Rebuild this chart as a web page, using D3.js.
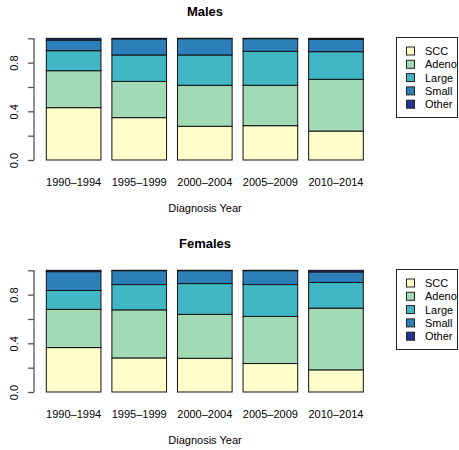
<!DOCTYPE html>
<html><head><meta charset="utf-8">
<script src="https://cdn.jsdelivr.net/npm/d3@7"></script>
<style>body{margin:0;background:#fff}svg{display:block}text{font-family:"Liberation Sans",Arial,sans-serif;fill:#000}</style>
</head><body>
<script>
const years = ["1990–1994","1995–1999","2000–2004","2005–2009","2010–2014"];
const types = ["SCC","Adeno","Large","Small","Other"];
const colors = ["#FFFFCC","#A1DAB4","#41B6C4","#2C7FB8","#253494"];
const yTicks = [0, 0.2, 0.4, 0.6, 0.8, 1.0];
const yTickLabels = ["0.0","","0.4","","0.8",""];
// proportions per year: SCC, Adeno, Large, Small, Other
const males = [
  [0.430,0.304,0.164,0.088,0.014],
  [0.348,0.298,0.217,0.132,0.005],
  [0.277,0.337,0.249,0.134,0.003],
  [0.282,0.332,0.279,0.104,0.003],
  [0.238,0.425,0.227,0.102,0.008]
];
const females = [
  [0.365,0.314,0.155,0.155,0.011],
  [0.280,0.395,0.208,0.114,0.003],
  [0.277,0.361,0.253,0.106,0.003],
  [0.234,0.387,0.262,0.114,0.003],
  [0.182,0.507,0.211,0.087,0.013]
];
const W = 459, H = 450;
const svg = d3.select("body").append("svg").attr("width",W).attr("height",H);

function panel(title, data, top) {
  const g = svg.append("g").attr("transform",`translate(0,${top})`);
  const y = d3.scaleLinear().domain([0,1]).range([160,38.3]);
  const x = d3.scaleBand().domain(years).range([33.6+0.232*54.6+ -0.2*54.6 + 0, 376]).paddingInner(0.2/1.2).paddingOuter(0);
  // use explicit band: bars from 46.3 step 65.5 width 54.6
  const xb = d3.scaleBand().domain(years).range([46.3 - 0.1*54.6, 363.3 + 0.1*54.6]).paddingInner(0.2/1.2).paddingOuter(0.1/1.2* (1/ (1)) );
  const bx = d3.scaleLinear().domain([0,5]).range([46.3-5.46, 363.3+5.46]);
  const step = (bx(5)-bx(0))/5, bw = step/1.2;
  years.forEach((yr,i)=>{
    let cum = 0;
    const x0 = bx(i) + (step-bw)/2;
    data[i].forEach((v,k)=>{
      g.append("rect").attr("x",x0).attr("y",y(cum+v)).attr("width",bw).attr("height",y(cum)-y(cum+v))
        .attr("fill",colors[k]).attr("stroke","#111").attr("stroke-width",1);
      cum += v;
    });
    g.append("text").attr("x",x0+bw/2).attr("y",185.5).attr("text-anchor","middle").attr("font-size",11).text(yr);
  });
  // y axis
  const ax = g.append("g").attr("transform","translate(34,0)")
    .call(d3.axisLeft(y).tickValues(yTicks).tickSize(6).tickFormat((d,i)=>yTickLabels[i]));
  ax.select(".domain").attr("stroke","#555").attr("stroke-width",1.3).attr("d",`M0,${y(0)}V${y(1)}`);
  ax.selectAll(".tick line").attr("stroke","#555").attr("stroke-width",1.3);
  ax.selectAll(".tick text").attr("font-size",11).attr("font-family","Liberation Sans, Arial, sans-serif")
    .attr("transform","rotate(-90)").attr("x",0).attr("y",-20).attr("dy","0").attr("text-anchor","middle").attr("dominant-baseline","central");
  ax.selectAll(".tick text").each(function(){
    const t = d3.select(this); const ty = d3.select(this.parentNode).attr("transform");
  });
  // title
  g.append("text").attr("x",205).attr("y",15.5).attr("text-anchor","middle").attr("font-size",13).attr("font-weight","bold").text(title);
  g.append("text").attr("x",205).attr("y",212).attr("text-anchor","middle").attr("font-size",11).text("Diagnosis Year");
  // legend
  g.append("rect").attr("x",396.5).attr("y",37.5).attr("width",61).attr("height",80).attr("fill","#fff").attr("stroke","#222").attr("stroke-width",1);
  types.forEach((t,k)=>{
    const cy = 51 + k*13.3;
    g.append("rect").attr("x",406.5).attr("y",cy-4).attr("width",8).attr("height",8).attr("fill",colors[k]).attr("stroke","#222").attr("stroke-width",1);
    g.append("text").attr("x",425).attr("y",cy).attr("dominant-baseline","central").attr("font-size",11).text(t);
  });
}
panel("Males", males, 0);
panel("Females", females, 232);
</script>
</body></html>
